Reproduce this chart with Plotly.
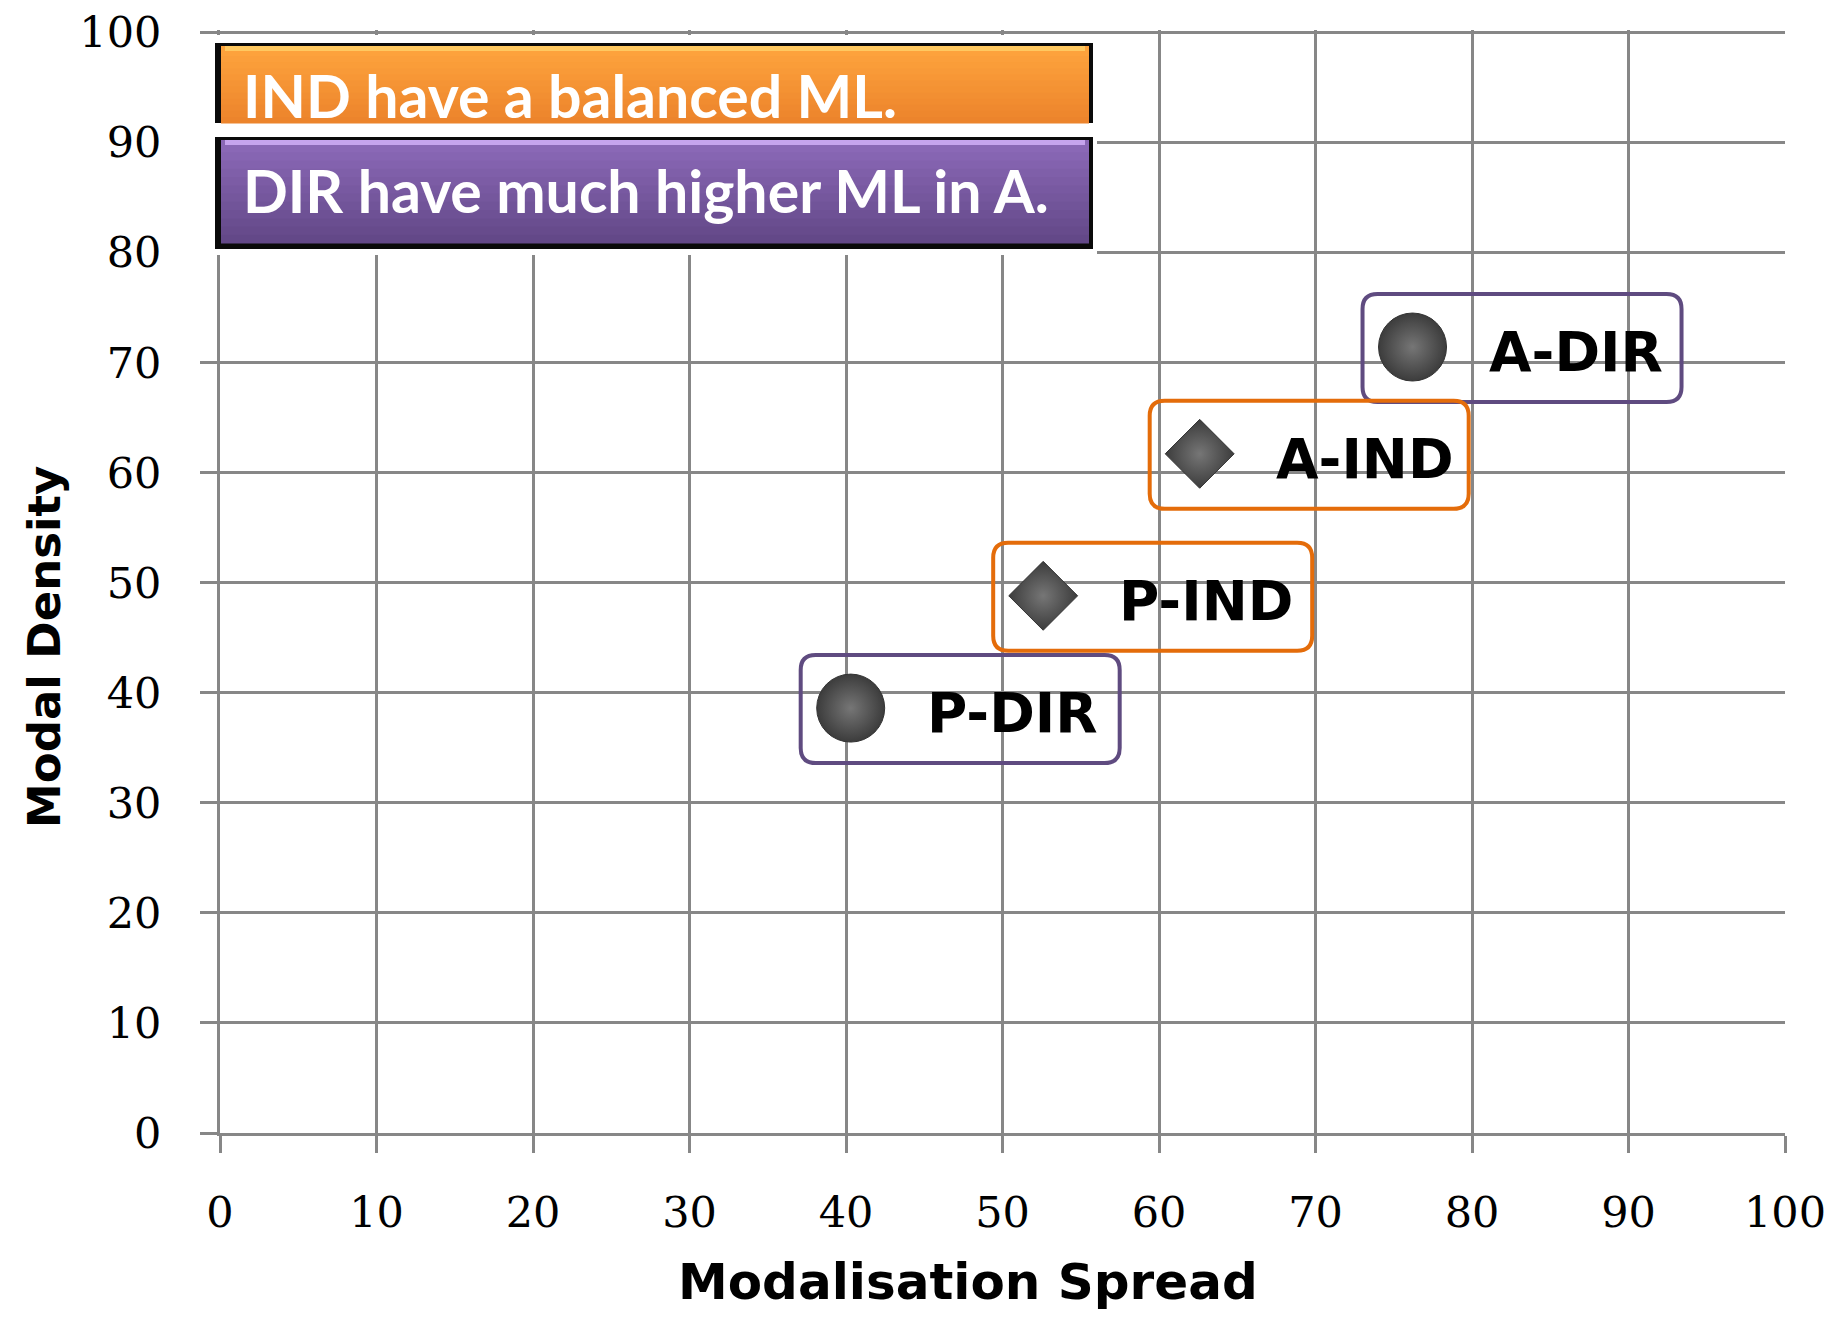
import plotly.graph_objects as go

# ---------------- data ----------------
labels = ["P-DIR", "A-DIR", "P-IND", "A-IND"]
groups = ["DIR", "DIR", "IND", "IND"]
spread = [40.3, 76.2, 52.6, 62.6]      # Modalisation Spread (x)
density = [38.6, 71.4, 48.8, 61.7]     # Modal Density (y)
x_ticks = [0, 10, 20, 30, 40, 50, 60, 70, 80, 90, 100]
y_ticks = [0, 10, 20, 30, 40, 50, 60, 70, 80, 90, 100]
note_texts = ["IND have a balanced ML.", "DIR have much higher ML in A."]
x_title = "Modalisation Spread"
y_title = "Modal Density"

# ---------------- styling ----------------
OFF = 8                      # default page body margin
W, H = 1819, 1306
ML, MR, MT, MB = 212, 42, 22, 181
PW, PH = W - ML - MR, H - MT - MB
Y_RANGE = [0, 100.2]
GRID = "#878787"
COL = {"DIR": "#5F4B80", "IND": "#E46C0A"}
SYM = {"DIR": "circle", "IND": "diamond"}
SIZE = {"DIR": 68, "IND": 53}


def px2paper_x(px):
    return (px - OFF - ML) / PW


def px2paper_y(py):
    return (H - MB - (py - OFF)) / PH


def rect(x0, y0, x1, y1, color, layer="above"):
    return dict(type="rect", xref="paper", yref="paper",
                x0=px2paper_x(x0), x1=px2paper_x(x1),
                y0=px2paper_y(y1), y1=px2paper_y(y0),
                fillcolor=color, line=dict(width=0), layer=layer)


def lerp(c0, c1, t):
    a = [int(c0[i:i + 2], 16) for i in (1, 3, 5)]
    b = [int(c1[i:i + 2], 16) for i in (1, 3, 5)]
    return "#" + "".join(f"{round(a[k] + (b[k] - a[k]) * t):02x}" for k in range(3))


def rounded_path(l, r, t, b, rad):
    # pixel coordinates relative to anchor, y positive upwards
    return (f"M {l + rad},{t} L {r - rad},{t} Q {r},{t} {r},{t - rad} "
            f"L {r},{b + rad} Q {r},{b} {r - rad},{b} "
            f"L {l + rad},{b} Q {l},{b} {l},{b + rad} "
            f"L {l},{t - rad} Q {l},{t} {l + rad},{t} Z")


fig = go.Figure()

for g in ["DIR", "IND"]:
    idx = [i for i, gg in enumerate(groups) if gg == g]
    fig.add_trace(go.Scatter(
        x=[spread[i] for i in idx], y=[density[i] for i in idx],
        mode="markers", name=g, showlegend=False,
        marker=dict(symbol=SYM[g], size=SIZE[g], color="#3c3c3c",
                    gradient=dict(type="radial", color="#767676"),
                    line=dict(width=1, color="#333333")),
        hovertext=[labels[i] for i in idx]))

shapes = []
annotations = []

# label boxes and texts
for lab, g, xv, yv in zip(labels, groups, spread, density):
    shapes.append(dict(type="path", xref="x", yref="y",
                       xsizemode="pixel", ysizemode="pixel",
                       xanchor=xv, yanchor=yv,
                       path=rounded_path(-50, 269, 53, -55, 15),
                       line=dict(color=COL[g], width=4),
                       fillcolor="rgba(0,0,0,0)", layer="above"))
    annotations.append(dict(x=xv, y=yv, xref="x", yref="y", text=f"<b>{lab}</b>",
                            showarrow=False, xanchor="left", yanchor="middle",
                            xshift=74, yshift=-5,
                            font=dict(family="DejaVu Sans", size=55, color="black")))

# white patch behind the notes
shapes.append(rect(200, 35, 1097, 255, "white"))


def bar(top, bottom, c_hi, c_top, c_bot, shadow_bottom):
    out = []
    out.append(rect(215, top - 1, 1093, bottom, "#0a0a0a"))
    body_b = bottom - (6 if shadow_bottom else 0)
    body_t = top + 2
    out.append(rect(221, body_t, 1089, body_b, c_top))
    n = 12
    h = (body_b - (body_t + 4)) / n
    for k in range(n):
        out.append(rect(221, body_t + 4 + k * h, 1089, body_t + 4 + (k + 1) * h + 0.5,
                        lerp(c_top, c_bot, k / (n - 1))))
    out.append(rect(225, body_t, 1085, body_t + 5, c_hi))
    return out


shapes += bar(44, 123, "#FFC860", "#FDA23C", "#EC842C", False)
shapes += bar(138, 249, "#C6A4EE", "#8A68B6", "#634888", True)

for txt, yc in zip(note_texts, [96, 190]):
    annotations.append(dict(x=px2paper_x(241), y=px2paper_y(yc), xref="paper", yref="paper",
                            text=f"<b>{txt}</b>", showarrow=False,
                            xanchor="left", yanchor="middle",
                            font=dict(family="Lato", size=59, color="white")))

# axis titles (placed as in the reference, off-centre)
annotations.append(dict(x=px2paper_x(968), y=px2paper_y(1282), xref="paper", yref="paper",
                        text=f"<b>{x_title}</b>", showarrow=False,
                        xanchor="center", yanchor="middle",
                        font=dict(family="DejaVu Sans", size=50, color="black")))
annotations.append(dict(x=px2paper_x(44), y=px2paper_y(647), xref="paper", yref="paper",
                        text=f"<b>{y_title}</b>", showarrow=False, textangle=-90,
                        xanchor="center", yanchor="middle",
                        font=dict(family="DejaVu Sans", size=45, color="black")))

axis_common = dict(showgrid=True, gridcolor=GRID, gridwidth=3,
                   zeroline=False, showline=True, linecolor=GRID, linewidth=3,
                   ticks="outside", ticklen=17, tickwidth=3, tickcolor=GRID,
                   ticklabeloverflow="allow",
                   tickfont=dict(family="DejaVu Serif", size=43, color="black"))

fig.update_layout(
    width=W, height=H,
    margin=dict(l=ML, r=MR, t=MT, b=MB, autoexpand=False),
    plot_bgcolor="white", paper_bgcolor="white",
    xaxis=dict(**axis_common, range=[0, 100], tickvals=x_ticks,
               ticktext=[str(v) for v in x_ticks], ticklabelstandoff=22),
    yaxis=dict(**axis_common, range=Y_RANGE, tickvals=y_ticks,
               ticktext=[str(v) for v in y_ticks], ticklabelstandoff=30),
    shapes=shapes, annotations=annotations,
)

fig.write_html("out.html")
